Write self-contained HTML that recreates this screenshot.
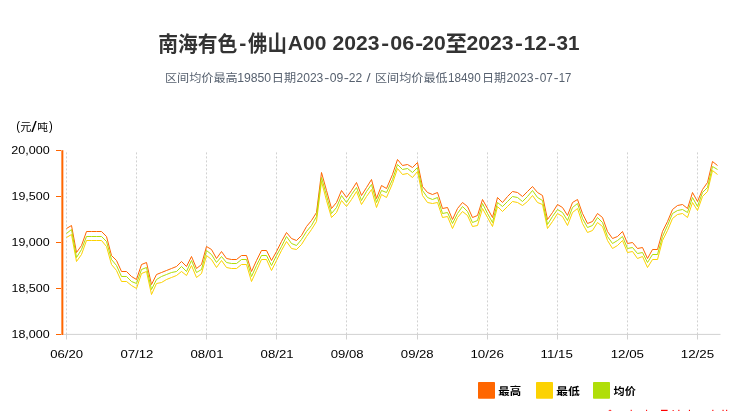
<!DOCTYPE html>
<html lang="zh-CN">
<head>
<meta charset="utf-8">
<title>南海有色-佛山A00 2023-06-20至2023-12-31</title>
<style>
html,body{margin:0;padding:0;background:#ffffff;overflow:hidden;}
body{width:740px;height:411px;overflow:hidden;font-family:"Liberation Sans","Noto Sans CJK SC",sans-serif;}
svg{display:block;will-change:transform;}
svg text{font-family:"Liberation Sans","Noto Sans CJK SC",sans-serif;white-space:pre;}
</style>
</head>
<body>
<svg width="740" height="411" viewBox="0 0 740 411">
<rect width="740" height="411" fill="#ffffff"/>
<text transform="translate(158.15 51.25) scale(0.9905 1.0515)" font-size="20" fill="#333333" font-weight="bold">南海有色</text>
<text transform="translate(239.17 49.5) scale(1.0634 1.0000)" font-size="20" fill="#333333" font-weight="bold">-</text>
<text transform="translate(248.05 51.14) scale(0.9695 1.0560)" font-size="20" fill="#333333" font-weight="bold">佛山</text>
<text transform="translate(287.78 49.5) scale(1.0517 1.0000)" font-size="20" fill="#333333" font-weight="bold">A00</text>
<text transform="translate(332.57 49.5) scale(1.0563 1.0000)" font-size="20" fill="#333333" font-weight="bold">2023</text><text transform="translate(381.28 49.5) scale(1.1815 1.0000)" font-size="20" fill="#333333" font-weight="bold">-</text><text transform="translate(390.35 49.5) scale(1.0756 1.0000)" font-size="20" fill="#333333" font-weight="bold">06</text><text transform="translate(415.28 49.5) scale(1.1815 1.0000)" font-size="20" fill="#333333" font-weight="bold">-</text><text transform="translate(422.37 49.5) scale(1.0563 1.0000)" font-size="20" fill="#333333" font-weight="bold">20</text>
<text transform="translate(445.39 51.44) scale(1.0875 1.1070)" font-size="20" fill="#333333" font-weight="bold">至</text>
<text transform="translate(466.47 49.5) scale(1.0586 1.0000)" font-size="20" fill="#333333" font-weight="bold">2023</text><text transform="translate(515.08 49.5) scale(1.1815 1.0000)" font-size="20" fill="#333333" font-weight="bold">-</text><text transform="translate(523.68 49.5) scale(1.0503 1.0000)" font-size="20" fill="#333333" font-weight="bold">12</text><text transform="translate(547.96 49.5) scale(1.2012 1.0000)" font-size="20" fill="#333333" font-weight="bold">-</text><text transform="translate(556.42 49.5) scale(1.0362 1.0000)" font-size="20" fill="#333333" font-weight="bold">31</text>
<text transform="translate(164.92 81.89) scale(1.0117 0.9575)" font-size="12" fill="#57616f">区间均价最高</text>
<text transform="translate(237.17 82.1) scale(1.0192 1.0000)" font-size="12" fill="#57616f">19850</text>
<text transform="translate(271.76 81.91) scale(1.0133 0.9775)" font-size="12" fill="#57616f">日期</text>
<text transform="translate(296.49 82) scale(1.0053 1.0000)" font-size="12" fill="#57616f">2023</text><text transform="translate(324.23 82) scale(1.2629 1.0000)" font-size="12" fill="#57616f">-</text><text transform="translate(329.82 82) scale(1.0154 1.0000)" font-size="12" fill="#57616f">09</text><text transform="translate(343.71 82) scale(1.2971 1.0000)" font-size="12" fill="#57616f">-</text><text transform="translate(348.79 82) scale(1.0049 1.0000)" font-size="12" fill="#57616f">22</text>
<text transform="translate(366.4 82.1) scale(1.2298 1.0000)" font-size="12" fill="#57616f">/</text>
<text transform="translate(375.03 81.89) scale(1.0083 0.9592)" font-size="12" fill="#57616f">区间均价最低</text>
<text transform="translate(448.11 82.1) scale(0.9754 1.0000)" font-size="12" fill="#57616f">18490</text>
<text transform="translate(481.88 81.91) scale(1.0042 0.9775)" font-size="12" fill="#57616f">日期</text>
<text transform="translate(506.39 82) scale(1.0170 1.0000)" font-size="12" fill="#57616f">2023</text><text transform="translate(534.5 82) scale(1.1264 1.0000)" font-size="12" fill="#57616f">-</text><text transform="translate(539.73 82) scale(0.9939 1.0000)" font-size="12" fill="#57616f">07</text><text transform="translate(553.66 82) scale(1.1947 1.0000)" font-size="12" fill="#57616f">-</text><text transform="translate(558.73 82) scale(0.9467 1.0000)" font-size="12" fill="#57616f">17</text>
<text transform="translate(16.2 130.4) scale(0.9429 1.0000)" font-size="12" fill="#000">(</text>
<text transform="translate(20.37 131) scale(0.9250 0.9733)" font-size="12" fill="#000">元</text>
<text transform="translate(31.3 131.8) scale(1.6497 1.1500)" font-size="12" fill="#000">/</text>
<text transform="translate(37.31 131.39) scale(0.8917 0.8933)" font-size="12" fill="#000">吨</text>
<text transform="translate(48.93 130.4) scale(0.9429 1.0000)" font-size="12" fill="#000">)</text>
<path d="M66.5 334.4V150.4M136.5 334.4V150.4M206.5 334.4V150.4M276.5 334.4V150.4M346.5 334.4V150.4M417.5 334.4V150.4M487.5 334.4V150.4M557.5 334.4V150.4M627.5 334.4V150.4M697.5 334.4V150.4" stroke="#d1d1d1" stroke-width="1" stroke-dasharray="2 2" fill="none"/>
<path d="M63.4 334.4H720.5M66.5 334.4V339.5M136.5 334.4V339.5M206.5 334.4V339.5M276.5 334.4V339.5M346.5 334.4V339.5M417.5 334.4V339.5M487.5 334.4V339.5M557.5 334.4V339.5M627.5 334.4V339.5M697.5 334.4V339.5" stroke="#d2d2d2" stroke-width="1" fill="none"/>
<polyline points="66.5,228.5 71.5,225.5 76.5,252.5 81.5,245.5 86.5,231.5 91.5,231.5 96.5,231.5 101.5,231.5 106.5,236.5 111.5,255.5 116.5,260.5 121.5,271.5 126.5,271.5 131.5,276.5 136.5,279.5 141.5,264.5 146.5,262.5 151.5,284.5 156.5,274.5 161.5,272.5 166.5,270.5 171.5,268.5 176.5,266.5 181.5,261.5 186.5,266.5 191.5,256.5 196.5,268.5 201.5,264.5 206.5,246.5 211.5,249.5 216.5,258.5 221.5,251.5 226.5,258.5 231.5,259.5 236.5,259.5 241.5,255.5 246.5,255.5 251.5,271.5 256.5,260.5 261.5,250.5 266.5,250.5 271.5,260.5 276.5,251.5 281.5,241.5 286.5,232.5 291.5,238.5 296.5,240.5 301.5,235.5 306.5,226.5 311.5,220.5 316.5,212.5 321.5,172.5 326.5,190.5 331.5,208.5 336.5,202.5 341.5,190.5 346.5,197.5 351.5,190.5 356.5,182.5 361.5,195.5 366.5,187.5 371.5,179.5 376.5,198.5 381.5,185.5 386.5,188.5 392.5,174.5 397.5,159.5 402.5,165.5 407.5,164.5 412.5,167.5 417.5,162.5 422.5,186.5 427.5,192.5 432.5,194.5 437.5,192.5 442.5,208.5 447.5,207.5 452.5,219.5 457.5,208.5 462.5,202.5 467.5,206.5 472.5,217.5 477.5,215.5 482.5,199.5 487.5,208.5 492.5,217.5 497.5,197.5 502.5,202.5 507.5,196.5 512.5,191.5 517.5,192.5 522.5,196.5 527.5,191.5 532.5,186.5 537.5,192.5 542.5,195.5 547.5,219.5 552.5,212.5 557.5,204.5 562.5,207.5 567.5,215.5 572.5,202.5 577.5,199.5 582.5,213.5 587.5,223.5 592.5,221.5 597.5,213.5 602.5,217.5 607.5,231.5 612.5,238.5 617.5,236.5 622.5,231.5 627.5,243.5 632.5,242.5 637.5,248.5 642.5,247.5 647.5,258.5 652.5,249.5 657.5,249.5 662.5,231.5 667.5,221.5 672.5,209.5 677.5,205.5 682.5,204.5 687.5,208.5 692.5,192.5 697.5,201.5 702.5,189.5 707.5,182.5 712.5,161.5 717.5,165.5" fill="none" stroke="#FF6600" stroke-width="1.0" stroke-linejoin="miter"/>
<polyline points="66.5,237.5 71.5,234.5 76.5,261.5 81.5,254.5 86.5,240.5 91.5,240.5 96.5,240.5 101.5,240.5 106.5,246.5 111.5,264.5 116.5,270.5 121.5,281.5 126.5,281.5 131.5,285.5 136.5,288.5 141.5,273.5 146.5,271.5 151.5,294.5 156.5,283.5 161.5,282.5 166.5,279.5 171.5,277.5 176.5,275.5 181.5,271.5 186.5,275.5 191.5,265.5 196.5,277.5 201.5,273.5 206.5,255.5 211.5,259.5 216.5,267.5 221.5,260.5 226.5,267.5 231.5,268.5 236.5,268.5 241.5,264.5 246.5,264.5 251.5,281.5 256.5,270.5 261.5,259.5 266.5,259.5 271.5,270.5 276.5,260.5 281.5,250.5 286.5,241.5 291.5,248.5 296.5,249.5 301.5,244.5 306.5,236.5 311.5,229.5 316.5,221.5 321.5,181.5 326.5,200.5 331.5,217.5 336.5,212.5 341.5,200.5 346.5,206.5 351.5,199.5 356.5,191.5 361.5,204.5 366.5,196.5 371.5,189.5 376.5,207.5 381.5,194.5 386.5,197.5 392.5,183.5 397.5,168.5 402.5,174.5 407.5,173.5 412.5,177.5 417.5,171.5 422.5,195.5 427.5,202.5 432.5,203.5 437.5,202.5 442.5,217.5 447.5,216.5 452.5,228.5 457.5,217.5 462.5,211.5 467.5,215.5 472.5,226.5 477.5,225.5 482.5,208.5 487.5,217.5 492.5,226.5 497.5,206.5 502.5,211.5 507.5,206.5 512.5,201.5 517.5,202.5 522.5,205.5 527.5,201.5 532.5,195.5 537.5,202.5 542.5,204.5 547.5,228.5 552.5,221.5 557.5,213.5 562.5,216.5 567.5,225.5 572.5,212.5 577.5,208.5 582.5,223.5 587.5,232.5 592.5,230.5 597.5,222.5 602.5,226.5 607.5,240.5 612.5,248.5 617.5,245.5 622.5,240.5 627.5,252.5 632.5,251.5 637.5,258.5 642.5,256.5 647.5,267.5 652.5,259.5 657.5,259.5 662.5,240.5 667.5,230.5 672.5,218.5 677.5,214.5 682.5,213.5 687.5,217.5 692.5,202.5 697.5,210.5 702.5,196.5 707.5,191.5 712.5,170.5 717.5,174.5" fill="none" stroke="#FCD202" stroke-width="1.0" stroke-linejoin="miter"/>
<polyline points="66.5,233.5 71.5,229.5 76.5,257.5 81.5,249.5 86.5,236.5 91.5,236.5 96.5,236.5 101.5,236.5 106.5,241.5 111.5,259.5 116.5,265.5 121.5,276.5 126.5,276.5 131.5,281.5 136.5,283.5 141.5,269.5 146.5,267.5 151.5,289.5 156.5,279.5 161.5,276.5 166.5,274.5 171.5,272.5 176.5,271.5 181.5,266.5 186.5,271.5 191.5,260.5 196.5,272.5 201.5,269.5 206.5,250.5 211.5,254.5 216.5,262.5 221.5,256.5 226.5,262.5 231.5,263.5 236.5,263.5 241.5,259.5 246.5,259.5 251.5,276.5 256.5,265.5 261.5,255.5 266.5,255.5 271.5,265.5 276.5,255.5 281.5,246.5 286.5,236.5 291.5,243.5 296.5,245.5 301.5,239.5 306.5,231.5 311.5,225.5 316.5,216.5 321.5,177.5 326.5,195.5 331.5,213.5 336.5,207.5 341.5,195.5 346.5,202.5 351.5,194.5 356.5,187.5 361.5,200.5 366.5,191.5 371.5,184.5 376.5,202.5 381.5,190.5 386.5,192.5 392.5,179.5 397.5,164.5 402.5,169.5 407.5,168.5 412.5,172.5 417.5,167.5 422.5,190.5 427.5,197.5 432.5,199.5 437.5,197.5 442.5,213.5 447.5,212.5 452.5,223.5 457.5,213.5 462.5,206.5 467.5,211.5 472.5,222.5 477.5,220.5 482.5,203.5 487.5,213.5 492.5,222.5 497.5,202.5 502.5,206.5 507.5,201.5 512.5,196.5 517.5,197.5 522.5,201.5 527.5,196.5 532.5,190.5 537.5,197.5 542.5,200.5 547.5,224.5 552.5,216.5 557.5,209.5 562.5,212.5 567.5,220.5 572.5,207.5 577.5,203.5 582.5,218.5 587.5,227.5 592.5,225.5 597.5,217.5 602.5,222.5 607.5,236.5 612.5,243.5 617.5,240.5 622.5,236.5 627.5,248.5 632.5,247.5 637.5,253.5 642.5,252.5 647.5,262.5 652.5,254.5 657.5,254.5 662.5,236.5 667.5,225.5 672.5,213.5 677.5,210.5 682.5,209.5 687.5,212.5 692.5,197.5 697.5,206.5 702.5,192.5 707.5,187.5 712.5,166.5 717.5,169.5" fill="none" stroke="#B0DE09" stroke-width="1.0" stroke-linejoin="miter"/>
<path d="M62.35 150.2V335" stroke="#FF6600" stroke-width="2" fill="none"/>
<path d="M56 150.5H61M56 196.5H61M56 242.5H61M56 288.5H61M56 334.5H61" stroke="#FF6600" stroke-width="1" fill="none"/>
<text transform="translate(11.17 154.2) scale(1.1246 1.0000)" font-size="11.2" fill="#000">20,000</text>
<text transform="translate(11.45 200.2) scale(1.1163 1.0000)" font-size="11.2" fill="#000">19,500</text>
<text transform="translate(11.45 246.2) scale(1.1163 1.0000)" font-size="11.2" fill="#000">19,000</text>
<text transform="translate(11.45 292.2) scale(1.1163 1.0000)" font-size="11.2" fill="#000">18,500</text>
<text transform="translate(11.45 338.2) scale(1.1163 1.0000)" font-size="11.2" fill="#000">18,000</text>
<text transform="translate(50.29 358) scale(1.1712 1.0000)" font-size="11.2" fill="#000">06/20</text>
<text transform="translate(120.4 358) scale(1.1766 1.0000)" font-size="11.2" fill="#000">07/12</text>
<text transform="translate(190.51 358) scale(1.1759 1.0000)" font-size="11.2" fill="#000">08/01</text>
<text transform="translate(260.62 358) scale(1.1759 1.0000)" font-size="11.2" fill="#000">08/21</text>
<text transform="translate(330.73 358) scale(1.1733 1.0000)" font-size="11.2" fill="#000">09/08</text>
<text transform="translate(400.84 358) scale(1.1733 1.0000)" font-size="11.2" fill="#000">09/28</text>
<text transform="translate(470.44 358) scale(1.1918 1.0000)" font-size="11.2" fill="#000">10/26</text>
<text transform="translate(540.55 358) scale(1.1908 1.0000)" font-size="11.2" fill="#000">11/15</text>
<text transform="translate(610.66 358) scale(1.1908 1.0000)" font-size="11.2" fill="#000">12/05</text>
<text transform="translate(680.77 358) scale(1.1908 1.0000)" font-size="11.2" fill="#000">12/25</text>
<rect x="478" y="382" width="17" height="16.8" rx="0.8" fill="#FF6600"/>
<text transform="translate(498.32 394.93) scale(0.9517 0.8975)" font-size="12" fill="#000" font-weight="bold">最高</text>
<rect x="536" y="382" width="17" height="16.8" rx="0.8" fill="#FCD202"/>
<text transform="translate(556.2 394.88) scale(0.9842 0.8983)" font-size="12" fill="#000" font-weight="bold">最低</text>
<rect x="593" y="382" width="17" height="16.8" rx="0.8" fill="#B0DE09"/>
<text transform="translate(613.61 394.85) scale(0.9300 0.8950)" font-size="12" fill="#000" font-weight="bold">均价</text>
<g fill="#ff0000"><rect x="609.5" y="409.8" width="1.1" height="1.2"/><rect x="608.5" y="410.6" width="3" height="0.4"/><rect x="630.7" y="409.8" width="1" height="1.2"/><rect x="646.1" y="409.8" width="1" height="1.2"/><rect x="661" y="409.8" width="6.6" height="1.2"/><rect x="672.6" y="410" width="1.1" height="1"/><rect x="678.3" y="409.8" width="1.1" height="1.2"/><rect x="688.9" y="409.8" width="1.1" height="1.2"/><rect x="712.3" y="409.8" width="1.1" height="1.2"/><rect x="722.5" y="409.8" width="1.1" height="1.2"/><rect x="726.1" y="409.8" width="1.1" height="1.2"/></g>
</svg>
</body>
</html>
